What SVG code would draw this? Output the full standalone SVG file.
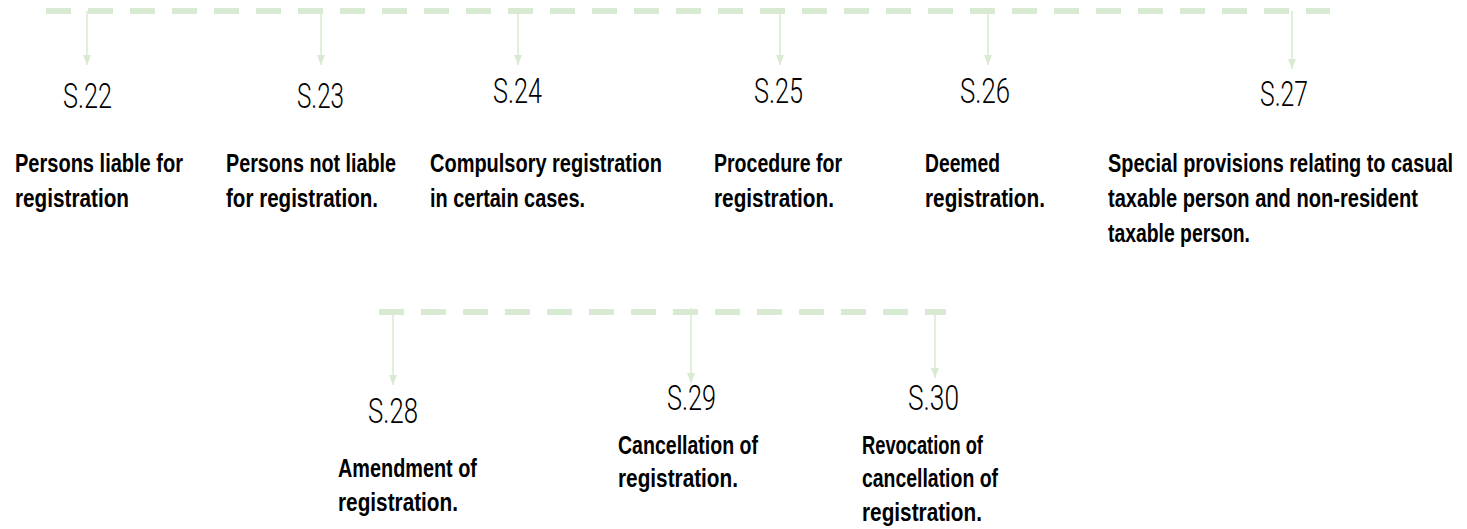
<svg xmlns="http://www.w3.org/2000/svg" width="1467" height="529" viewBox="0 0 1467 529">
<style>
.bus{stroke:#d9ead3;stroke-width:6;stroke-dasharray:25 17;fill:none}
.arr{stroke:#d9ead3;stroke-width:1.5;fill:none}
.num{font-family:Roboto,"Liberation Sans",Arial,sans-serif;font-size:35px;font-weight:300;fill:#000}
.desc{font-family:"Liberation Sans",Arial,sans-serif;font-size:26px;font-weight:bold;fill:#000}
</style>
<defs>
<marker id="ah" viewBox="0 0 10 8" refX="10" refY="4" markerWidth="10" markerHeight="8" markerUnits="userSpaceOnUse" orient="auto"><path d="M0,0 L10,4 L0,8 z" fill="#d9ead3"/></marker>
</defs>
<rect width="1467" height="529" fill="#fff"/>
<g id="connectors">
<line class="bus" x1="46" y1="11" x2="1330" y2="11"/>
<line class="arr" x1="87" y1="11" x2="87" y2="65" marker-end="url(#ah)"/>
<line class="arr" x1="321" y1="11" x2="321" y2="65" marker-end="url(#ah)"/>
<line class="arr" x1="518" y1="11" x2="518" y2="65" marker-end="url(#ah)"/>
<line class="arr" x1="780" y1="11" x2="780" y2="65" marker-end="url(#ah)"/>
<line class="arr" x1="988" y1="11" x2="988" y2="65" marker-end="url(#ah)"/>
<line class="arr" x1="1292" y1="11" x2="1292" y2="69" marker-end="url(#ah)"/>
<line class="bus" x1="379" y1="312" x2="946" y2="312"/>
<line class="arr" x1="393" y1="312" x2="393" y2="385" marker-end="url(#ah)"/>
<line class="arr" x1="691" y1="308" x2="691" y2="383" marker-end="url(#ah)"/>
<line class="arr" x1="935" y1="310" x2="935" y2="378" marker-end="url(#ah)"/>
</g>
<g id="s22">
<text class="num" x="63" y="108" textLength="49" lengthAdjust="spacingAndGlyphs">S.22</text>
<g transform="translate(15 0) scale(0.75 1)">
<text class="desc" x="0" y="172" textLength="224" lengthAdjust="spacingAndGlyphs">Persons liable for</text>
<text class="desc" x="0" y="207" textLength="152" lengthAdjust="spacingAndGlyphs">registration</text>
</g>
</g>
<g id="s23">
<text class="num" x="297" y="108" textLength="47" lengthAdjust="spacingAndGlyphs">S.23</text>
<g transform="translate(226 0) scale(0.75 1)">
<text class="desc" x="0" y="172" textLength="226.7" lengthAdjust="spacingAndGlyphs">Persons not liable</text>
<text class="desc" x="0" y="207" textLength="202.7" lengthAdjust="spacingAndGlyphs">for registration.</text>
</g>
</g>
<g id="s24">
<text class="num" x="493" y="103" textLength="49" lengthAdjust="spacingAndGlyphs">S.24</text>
<g transform="translate(430 0) scale(0.75 1)">
<text class="desc" x="0" y="172" textLength="309.3" lengthAdjust="spacingAndGlyphs">Compulsory registration</text>
<text class="desc" x="0" y="207" textLength="206.7" lengthAdjust="spacingAndGlyphs">in certain cases.</text>
</g>
</g>
<g id="s25">
<text class="num" x="754" y="103" textLength="49" lengthAdjust="spacingAndGlyphs">S.25</text>
<g transform="translate(714 0) scale(0.75 1)">
<text class="desc" x="0" y="172" textLength="170.7" lengthAdjust="spacingAndGlyphs">Procedure for</text>
<text class="desc" x="0" y="207" textLength="160" lengthAdjust="spacingAndGlyphs">registration.</text>
</g>
</g>
<g id="s26">
<text class="num" x="960" y="103" textLength="50" lengthAdjust="spacingAndGlyphs">S.26</text>
<g transform="translate(925 0) scale(0.75 1)">
<text class="desc" x="0" y="172" textLength="100" lengthAdjust="spacingAndGlyphs">Deemed</text>
<text class="desc" x="0" y="207" textLength="160" lengthAdjust="spacingAndGlyphs">registration.</text>
</g>
</g>
<g id="s27">
<text class="num" x="1260" y="106" textLength="48" lengthAdjust="spacingAndGlyphs">S.27</text>
<g transform="translate(1108 0) scale(0.75 1)">
<text class="desc" x="0" y="172" textLength="460" lengthAdjust="spacingAndGlyphs">Special provisions relating to casual</text>
<text class="desc" x="0" y="207" textLength="413.3" lengthAdjust="spacingAndGlyphs">taxable person and non-resident</text>
<text class="desc" x="0" y="242" textLength="189.3" lengthAdjust="spacingAndGlyphs">taxable person.</text>
</g>
</g>
<g id="s28">
<text class="num" x="368" y="423" textLength="50" lengthAdjust="spacingAndGlyphs">S.28</text>
<g transform="translate(338 0) scale(0.75 1)">
<text class="desc" x="0" y="477" textLength="185.3" lengthAdjust="spacingAndGlyphs">Amendment of</text>
<text class="desc" x="0" y="511" textLength="160" lengthAdjust="spacingAndGlyphs">registration.</text>
</g>
</g>
<g id="s29">
<text class="num" x="667" y="410" textLength="49" lengthAdjust="spacingAndGlyphs">S.29</text>
<g transform="translate(618 0) scale(0.75 1)">
<text class="desc" x="0" y="454" textLength="186.7" lengthAdjust="spacingAndGlyphs">Cancellation of</text>
<text class="desc" x="0" y="487" textLength="160" lengthAdjust="spacingAndGlyphs">registration.</text>
</g>
</g>
<g id="s30">
<text class="num" x="908" y="410" textLength="51" lengthAdjust="spacingAndGlyphs">S.30</text>
<g transform="translate(862 0) scale(0.75 1)">
<text class="desc" x="0" y="454" textLength="161.3" lengthAdjust="spacingAndGlyphs">Revocation of</text>
<text class="desc" x="0" y="487" textLength="181.3" lengthAdjust="spacingAndGlyphs">cancellation of</text>
<text class="desc" x="0" y="521" textLength="160" lengthAdjust="spacingAndGlyphs">registration.</text>
</g>
</g>
</svg>
